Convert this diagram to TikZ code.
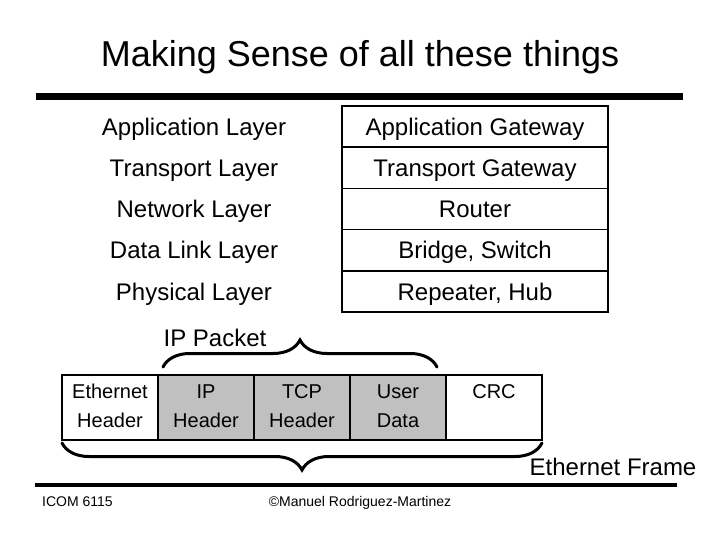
\documentclass[tikz,border=0pt]{standalone}
\usepackage{fontspec}
\usepackage{tikz}
\usepackage{xcolor}
\usetikzlibrary{positioning,calc,decorations.pathreplacing}
\setmainfont{Liberation Sans}
\definecolor{cellgray}{HTML}{C0C0C0}
\definecolor{inkblack}{HTML}{000000}
\tikzset{
  device/.style={
    rectangle,
    draw=inkblack,
    line width=1.6pt,
    outer sep=0pt,
    inner sep=0pt,
    minimum width=266pt,
    minimum height=41.2pt,
    text height=17.2pt,
    text depth=0pt,
    font=\fontsize{24}{28}\selectfont
  },
  layertext/.style={
    inner sep=0pt,
    text height=17.2pt,
    text depth=0pt,
    font=\fontsize{24}{28}\selectfont
  },
  cell/.style={
    rectangle,
    draw=inkblack,
    line width=1.6pt,
    outer sep=0pt,
    inner sep=0pt,
    align=center,
    minimum width=96pt,
    minimum height=65pt,
    text height=43pt,
    text depth=4pt,
    font=\fontsize{20}{29}\selectfont
  },
  shaded/.style={cell, fill=cellgray},
  bigtext/.style={inner sep=0pt, font=\fontsize{24}{28}\selectfont},
  foot/.style={inner sep=0pt, anchor=base, font=\fontsize{14}{16}\selectfont},
  rule/.style={draw=inkblack},
  curly/.style={draw=inkblack, line width=3pt, line cap=round,
    decorate, decoration={brace, amplitude=27pt, aspect=0.5}}
}
\begin{document}
\begin{tikzpicture}[x=1pt, y=-1pt, node distance=0pt and 0pt]
  \useasboundingbox (0,0) rectangle (720,540);

  \node[inner sep=0pt, font=\fontsize{36}{40}\selectfont] (title) at (360,57) {Making Sense of all these things};
  \draw[rule, line width=7pt] (36,96.5) -- (683,96.5);

  % devices per layer
  \node[device] (appgw) at (475,126.6) {Application Gateway};
  \node[device, below=of appgw] (transgw) {Transport Gateway};
  \node[device, below=of transgw] (router) {Router};
  \node[device, below=of router] (bridge) {Bridge, Switch};
  \node[device, below=of bridge] (repeater) {Repeater, Hub};

  \node[layertext] (app) at (194,126.6) {Application Layer};
  \node[layertext] (trans) at (194,167.8) {Transport Layer};
  \node[layertext] (net) at (194,209) {Network Layer};
  \node[layertext] (link) at (194,250.2) {Data Link Layer};
  \node[layertext] (phys) at (194,291.4) {Physical Layer};

  % ethernet frame
  \node[cell] (eth) at (110,407.5) {Ethernet\\Header};
  \node[shaded, right=of eth] (ip) {IP\\Header};
  \node[shaded, right=of ip] (tcp) {TCP\\Header};
  \node[shaded, right=of tcp] (data) {User\\Data};
  \node[cell, right=of data] (crc) {CRC\\\phantom{Header}};

  \node[bigtext] (ippkt) at (215,338) {IP Packet};
  \node[bigtext] (frame) at (613,467) {Ethernet Frame};

  \draw[curly] ($(ip.north west)+(5,-8)$) -- ($(data.north east)+(-9,-8)$);
  \draw[curly] ($(crc.south east)+(0,3)$) -- ($(eth.south west)+(0,3)$);

  \draw[rule, line width=3.5pt] (35,485) -- (677,485);
  \node[foot, anchor=base west] (course) at (42,506) {ICOM 6115};
  \node[foot] (author) at (360,506) {©Manuel Rodriguez-Martinez};
\end{tikzpicture}
\end{document}
